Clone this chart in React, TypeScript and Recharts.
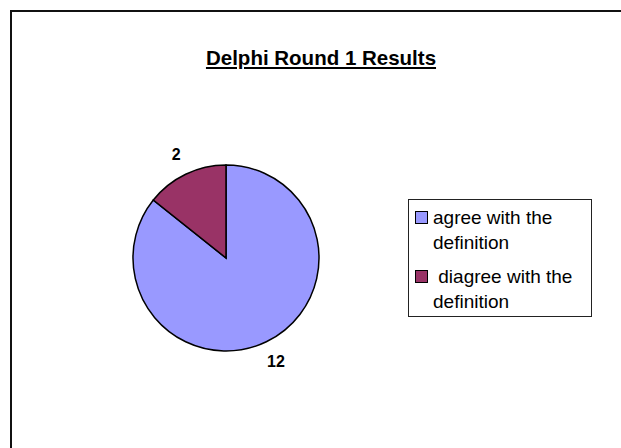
import { Legend, Pie, PieChart, Cell } from "recharts";

const categories = ["agree with the definition", " diagree with the definition"];
const responses = [12, 2];
const sliceColors = ["#9999FF", "#993366"];

const FONT = '"Liberation Sans", Arial, sans-serif';

const data = categories.map((name, i) => ({ name, value: responses[i] }));

const RADIAN = Math.PI / 180;

// Value labels sit just outside the rim, on each slice's mid-angle.
function renderLabel(props: any) {
  const { cx, cy, midAngle, outerRadius, value, index } = props;
  const r = outerRadius + 22;
  const x = cx + r * Math.cos(-midAngle * RADIAN);
  const y = cy + r * Math.sin(-midAngle * RADIAN);
  return (
    <text
      key={index}
      x={x}
      y={y}
      textAnchor="middle"
      dominantBaseline="central"
      fontFamily={FONT}
      fontWeight="bold"
      fontSize={16}
      fill="#000"
    >
      {value}
    </text>
  );
}

// Legend keeps the data order (Recharts would otherwise sort it).
function LegendBox() {
  return (
    <div
      style={{
        width: 184,
        height: 118,
        boxSizing: "border-box",
        border: "1px solid #222",
        background: "#fff",
        padding: "5px 6px 0 6px",
        fontFamily: FONT,
        fontSize: 19,
        lineHeight: "25px",
        color: "#000",
      }}
    >
      {categories.map((name, i) => (
        <div key={name} style={{ display: "flex", marginBottom: i === 0 ? 9 : 0 }}>
          <div
            style={{
              width: 13,
              height: 13,
              boxSizing: "border-box",
              border: "1.5px solid #000",
              background: sliceColors[i],
              marginTop: 6,
              marginRight: 5,
              flex: "none",
            }}
          />
          <div style={{ whiteSpace: "pre-wrap", width: 155 }}>{name}</div>
        </div>
      ))}
    </div>
  );
}

export default function App() {
  return (
    <div
      style={{
        position: "fixed",
        left: 0,
        top: 0,
        width: 621,
        height: 448,
        overflow: "hidden",
        background: "#fff",
      }}
    >
      <div
        style={{
          position: "absolute",
          left: 10,
          top: 10,
          width: 700,
          height: 500,
          borderTop: "2px solid #111",
          borderLeft: "2px solid #111",
        }}
      />
      <div
        style={{
          position: "absolute",
          left: 195,
          top: 46,
          width: 252,
          textAlign: "center",
          fontFamily: FONT,
          fontWeight: "bold",
          fontSize: 20.5,
          textDecoration: "underline",
          color: "#000",
          whiteSpace: "nowrap",
        }}
      >
        Delphi Round 1 Results
      </div>
      <div style={{ position: "absolute", left: 0, top: 0 }}>
        <PieChart width={621} height={448} margin={{ top: 0, right: 0, bottom: 0, left: 0 }}>
          <Pie
            data={data}
            dataKey="value"
            nameKey="name"
            cx={226}
            cy={258}
            outerRadius={93}
            startAngle={90}
            endAngle={-270}
            stroke="#000"
            strokeWidth={1.5}
            label={renderLabel}
            labelLine={false}
            isAnimationActive={false}
          >
            {data.map((d, i) => (
              <Cell key={d.name} fill={sliceColors[i]} />
            ))}
          </Pie>
          <Legend
            content={<LegendBox />}
            wrapperStyle={{ position: "absolute", left: 408, top: 199, width: 184 }}
          />
        </PieChart>
      </div>
    </div>
  );
}
